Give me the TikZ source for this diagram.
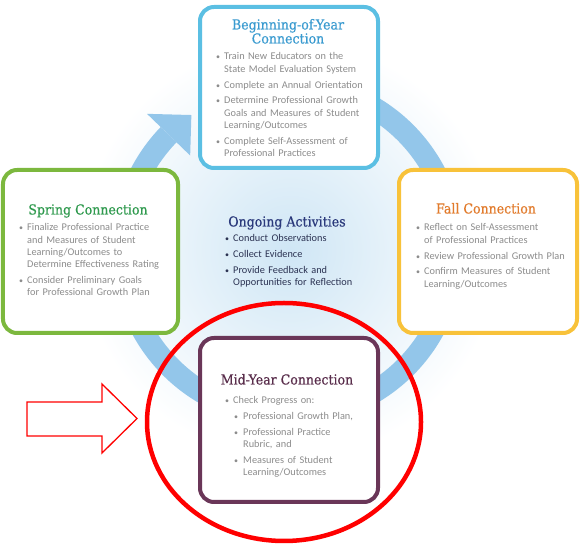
\documentclass[tikz,border=0pt]{standalone}
\usepackage{fontspec}
\setmainfont{Carlito}
\newfontfamily\slabfont[FakeStretch=0.91, FakeBold=0.5]{DejaVu Serif}
\usetikzlibrary{calc}
\definecolor{ringblue}{HTML}{93C6EA}
\definecolor{glow}{HTML}{CFE6F5}
\definecolor{topblue}{HTML}{5BBFE3}
\definecolor{topblueText}{HTML}{3A9BD0}
\definecolor{springgreen}{HTML}{7CB83E}
\definecolor{springgreenText}{HTML}{2F9A4E}
\definecolor{fallyellow}{HTML}{F8C23A}
\definecolor{fallorange}{HTML}{E27B2C}
\definecolor{midpurple}{HTML}{6A3658}
\definecolor{midpurpleText}{HTML}{5A2E4C}
\definecolor{bodygray}{HTML}{8C8C8C}
\definecolor{navy}{HTML}{2B3A7C}
\definecolor{navytext}{HTML}{2B3252}
\newcommand{\bitem}[1]{\hangindent=8bp\hangafter=1\noindent\makebox[8bp][l]{\footnotesize\textbullet}#1\par}
\newcommand{\bsubitem}[1]{\hangindent=18bp\hangafter=1\noindent\hspace*{9bp}\makebox[9bp][l]{\footnotesize\textbullet}#1\par}

\begin{document}
\begin{tikzpicture}[x=1bp, y=1bp,
    box/.style={draw, line width=4bp, rounded corners=14bp, fill=white, inner sep=0pt},
    head/.style={anchor=base, inner sep=0pt, font=\slabfont\fontsize{13.8bp}{14bp}\selectfont},
    body/.style={anchor=base west, inner sep=0pt, text width=165bp, align=left, text=bodygray,
      font=\fontsize{10.3bp}{12.3bp}\selectfont\setlength{\parskip}{3.5bp}}]
    \useasboundingbox (0,0) rectangle (583,551);
    \coordinate (ctr) at (288,301);
    \shade[inner color=glow, outer color=white] (290,301) circle (210); % soft glow in the middle
    % the cycle ring and its head
    \draw[ringblue, line width=22bp] (ctr) ++(70:166) arc[start angle=70, end angle=-224, radius=166];
    \fill[ringblue] ($(ctr)+(136:196)$) -- ($(ctr)+(125.6:166)$) -- ($(ctr)+(136:136)$) -- cycle;
    % the four boxes
    \node[box, draw=topblue, minimum width=178bp, minimum height=161bp] (bgn) at (289,463.5) {};
    \node[box, draw=springgreen, minimum width=175bp, minimum height=163bp] (spring) at (90.5,299.5) {};
    \node[box, draw=fallyellow, minimum width=178bp, minimum height=163bp] (fall) at (488,299.5) {};
    \node[box, draw=midpurple, minimum width=178bp, minimum height=164bp] (mid) at (289,131) {};
    % titles
    \node[head, text=topblueText, text width=170bp, align=center] (bgnTitle) at (288,521.5) {Beginning-of-Year\\Connection};
    \node[head, text=springgreenText] (springTitle) at (88,336.5) {Spring Connection};
    \node[head, text=fallorange] (fallTitle) at (486,337.5) {Fall Connection};
    \node[head, text=midpurpleText] (midTitle) at (287,166.5) {Mid-Year Connection};
    \node[head, text=navy] (ongoingTitle) at (287,324.5) {Ongoing Activities};
    % lists
    \node[body] (bgnList) at (216,491) {%
      \bitem{Train New Educators on the\newline State Model Evaluation System}
      \bitem{Complete an Annual Orientation}
      \bitem{Determine Professional Growth\newline Goals and Measures of Student\newline Learning/Outcomes}
      \bitem{Complete Self-Assessment of\newline Professional Practices}};
    \node[body] (springList) at (19,320) {%
      \bitem{Finalize Professional Practice\newline and Measures of Student\newline Learning/Outcomes to\newline Determine Effectiveness Rating}
      \bitem{Consider Preliminary Goals\newline for Professional Growth Plan}};
    \node[body] (fallList) at (416,320) {%
      \bitem{Reflect on Self-Assessment\newline of Professional Practices}
      \bitem{Review Professional Growth Plan}
      \bitem{Confirm Measures of Student\newline Learning/Outcomes}};
    \node[body] (midList) at (225,147) {%
      \bitem{Check Progress on:}
      \bsubitem{Professional Growth Plan,}
      \bsubitem{Professional Practice\newline Rubric, and}
      \bsubitem{Measures of Student\newline Learning/Outcomes}};
    \node[body, text=navytext] (ongoingList) at (225,309) {%
      \bitem{Conduct Observations}
      \bitem{Collect Evidence}
      \bitem{Provide Feedback and\newline Opportunities for Reflection}};
    % red marks
    \draw[red, line width=4.5bp] (284,129) ellipse [x radius=137, y radius=119];
    \draw[red, line width=1.3bp, fill=white] (27,115) -- (102,115) -- (102,98) -- (137,132.5)
      -- (102,167) -- (102,149) -- (27,149) -- cycle;
\end{tikzpicture}
\end{document}
